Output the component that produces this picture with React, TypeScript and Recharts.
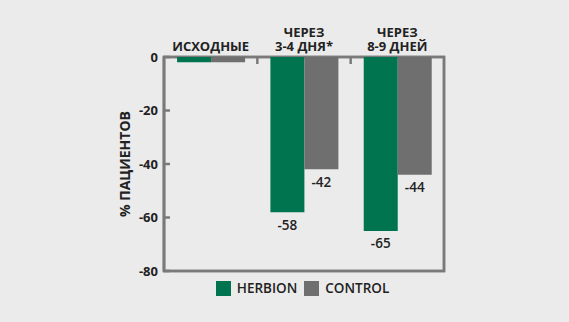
import * as R from "recharts";
import { Bar, BarChart, LabelList, Legend, ReferenceArea, XAxis, YAxis } from "recharts";

const categories = ["ИСХОДНЫЕ", "ЧЕРЕЗ\n3-4 ДНЯ*", "ЧЕРЕЗ\n8-9 ДНЕЙ"];
const herbion = [-2, -58, -65];
const control = [-2, -42, -44];
const herbionLabels = ["", "-58", "-65"];
const controlLabels = ["", "-42", "-44"];
const yTicks = [0, -20, -40, -60, -80];
const seriesNames = ["HERBION", "CONTROL"];

const GREEN = "#00734f";
const GRAY = "#6f6f6f";
const FRAME = "#7a7a7a";
const BG = "#ebebeb";
const INK = "#222";
const FONT = "'Open Sans', 'DejaVu Sans', sans-serif";
const seriesColors = [GREEN, GRAY];

const data = categories.map((name, i) => ({
  name,
  herbion: herbion[i],
  control: control[i],
  herbionLabel: herbionLabels[i],
  controlLabel: controlLabels[i],
}));

const CAT_MARGIN = 6;
const LINE_H = 14.5;
const usePlotArea: any = (R as any).usePlotArea;

// category label above the frame, plus the short separator mark at the band's left edge
function CategoryTick({ x, y, payload, index }: any) {
  const lines = String(payload.value).split("\n");
  const edge = x - (payload.offset || 0);
  const top = y + CAT_MARGIN;
  return (
    <g>
      <text x={x} y={y} textAnchor="middle" fontFamily={FONT} fontWeight={700} fontSize={13} fill={INK}>
        {lines.map((line, i) => (
          <tspan key={i} x={x} dy={i === 0 ? -(lines.length - 1) * LINE_H : LINE_H}>
            {line}
          </tspan>
        ))}
      </text>
      {index > 0 && <line x1={edge} x2={edge} y1={top} y2={top + 7} stroke={FRAME} strokeWidth={2.5} />}
    </g>
  );
}

function PlotFrame() {
  const area = usePlotArea ? usePlotArea() : null;
  if (!area) return null;
  return <rect x={area.x} y={area.y} width={area.width} height={area.height} fill="none" stroke={FRAME} strokeWidth={2.5} />;
}

function YLabel({ viewBox }: any) {
  const cy = viewBox.y + viewBox.height / 2;
  return (
    <text x={130} y={cy} transform={`rotate(-90, 130, ${cy})`} textAnchor="middle" fontFamily={FONT} fontWeight={700} fontSize={14} fill={INK}>
      % ПАЦИЕНТОВ
    </text>
  );
}

function LegendContent() {
  return (
    <div style={{ display: "flex", justifyContent: "center", gap: 7, fontFamily: FONT, fontWeight: 600, fontSize: 13.5, color: INK }}>
      {seriesNames.map((name, i) => (
        <div key={name} style={{ display: "flex", alignItems: "center", gap: 6 }}>
          <span style={{ width: 15, height: 15, background: seriesColors[i], display: "inline-block" }} />
          <span>{name}</span>
        </div>
      ))}
    </div>
  );
}

const labelStyle = { fontFamily: FONT, fontWeight: 600, fontSize: 13.5, fill: INK };

export default function App() {
  return (
    <div style={{ position: "absolute", left: 0, top: 0, width: 569, height: 322, background: BG }}>
      <BarChart width={569} height={322} data={data} margin={{ top: 0, right: 125, bottom: 51, left: 0 }} barCategoryGap="14%" barGap={0}>
        <XAxis dataKey="name" orientation="top" height={57} axisLine={false} tickLine={false} tickSize={0} tickMargin={CAT_MARGIN} tick={<CategoryTick />} interval={0} />
        <YAxis domain={[-80, 0]} ticks={yTicks} width={164} axisLine={{ stroke: FRAME, strokeWidth: 2.5 }} tickLine={{ stroke: FRAME, strokeWidth: 2.5 }} tickSize={-6} tickMargin={12} tick={{ fontFamily: FONT, fontWeight: 700, fontSize: 13, fill: INK }} label={<YLabel />} />
        <Legend verticalAlign="middle" align="center" layout="horizontal" wrapperStyle={{ top: 279, left: 0, width: 605 }} content={<LegendContent />} />
        <Bar dataKey="herbion" name="HERBION" fill={GREEN} isAnimationActive={false}>
          <LabelList dataKey="herbionLabel" position="top" offset={8} style={labelStyle} />
        </Bar>
        <Bar dataKey="control" name="CONTROL" fill={GRAY} isAnimationActive={false}>
          <LabelList dataKey="controlLabel" position="top" offset={8} style={labelStyle} />
        </Bar>
        <ReferenceArea y1={0} y2={-80} ifOverflow="visible" fill="none" stroke={FRAME} strokeWidth={2.5} />
        <PlotFrame />
      </BarChart>
    </div>
  );
}
